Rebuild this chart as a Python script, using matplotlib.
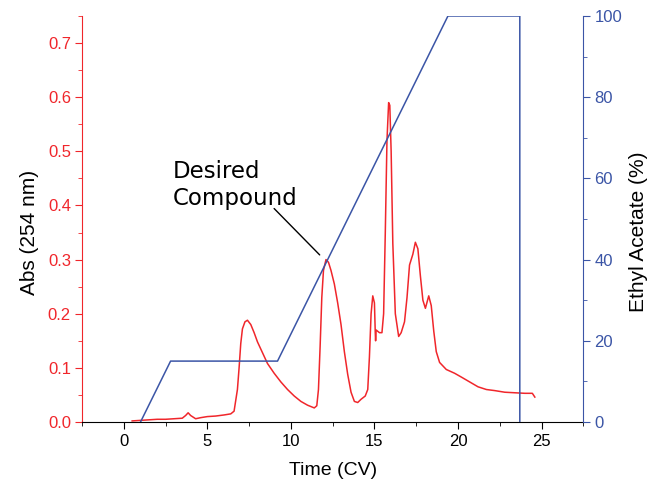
import matplotlib
matplotlib.use("Agg")
import matplotlib.pyplot as plt
from matplotlib.ticker import MultipleLocator

plt.rcParams['font.family'] = ['Liberation Sans', 'DejaVu Sans']

# UV trace, Abs (254 nm) vs Time (CV)
time_cv = [0.5, 1.0, 1.5, 2.0, 2.5, 3.0, 3.5, 3.7, 3.85, 4.0, 4.3, 4.6, 5.0, 5.5,
           6.0, 6.4, 6.6, 6.8, 6.9, 7.0, 7.1, 7.25, 7.4, 7.6, 7.8, 8.0, 8.3, 8.6,
           9.0, 9.4, 9.8, 10.2, 10.6, 11.0, 11.4, 11.55, 11.65, 11.75, 11.85, 11.95,
           12.1, 12.25, 12.4, 12.6, 12.8, 13.0, 13.2, 13.4, 13.6, 13.8, 14.0, 14.2,
           14.45, 14.6, 14.7, 14.8, 14.9, 15.0, 15.05, 15.07, 15.1, 15.3, 15.45,
           15.55, 15.65, 15.75, 15.85, 15.92, 16.0, 16.1, 16.25, 16.45, 16.6, 16.8,
           16.95, 17.1, 17.3, 17.45, 17.6, 17.75, 17.9, 18.05, 18.25, 18.4, 18.55,
           18.7, 18.9, 19.3, 19.8, 20.2, 20.7, 21.2, 21.7, 22.2, 22.8, 23.4, 24.0,
           24.45, 24.6]
absorbance = [0.002, 0.003, 0.004, 0.005, 0.005, 0.006, 0.007, 0.012, 0.017, 0.012,
              0.006, 0.008, 0.010, 0.011, 0.013, 0.015, 0.020, 0.060, 0.100, 0.145,
              0.172, 0.185, 0.188, 0.180, 0.165, 0.148, 0.128, 0.108, 0.090, 0.074,
              0.060, 0.048, 0.038, 0.031, 0.026, 0.030, 0.060, 0.140, 0.230, 0.280,
              0.300, 0.295, 0.280, 0.255, 0.220, 0.180, 0.130, 0.088, 0.055, 0.038,
              0.036, 0.042, 0.048, 0.060, 0.120, 0.200, 0.233, 0.220, 0.165, 0.150,
              0.170, 0.165, 0.165, 0.200, 0.350, 0.520, 0.590, 0.585, 0.500, 0.330,
              0.200, 0.158, 0.165, 0.185, 0.230, 0.290, 0.310, 0.332, 0.320, 0.270,
              0.225, 0.210, 0.233, 0.215, 0.168, 0.130, 0.110, 0.097, 0.090, 0.083,
              0.074, 0.065, 0.060, 0.058, 0.055, 0.054, 0.053, 0.053, 0.046]

# solvent gradient
grad_time = [1.0, 2.8, 9.2, 19.4, 23.7, 23.7]
grad_pct = [0, 15, 15, 100, 100, 0]

red = '#f0262b'
blue = '#3b55a6'

fig = plt.figure(figsize=(6.51, 4.83), dpi=100)
ax = fig.add_axes([0.126, 0.1263, 0.77, 0.8406])
ax2 = ax.twinx()

ax.plot(time_cv, absorbance, color=red, lw=1.1)
ax2.plot(grad_time, grad_pct, color=blue, lw=1.1)

ax.set_xlim(-2.5, 27.5)
ax.set_ylim(0, 0.75)
ax2.set_ylim(0, 100)

ax.xaxis.set_major_locator(MultipleLocator(5))
ax.xaxis.set_minor_locator(MultipleLocator(2.5))
ax.yaxis.set_major_locator(MultipleLocator(0.1))
ax.yaxis.set_minor_locator(MultipleLocator(0.05))
ax2.yaxis.set_major_locator(MultipleLocator(20))
ax2.yaxis.set_minor_locator(MultipleLocator(10))
ax.yaxis.set_major_formatter(plt.FormatStrFormatter('%.1f'))

for a in (ax, ax2):
    a.spines['top'].set_visible(False)
ax.spines['right'].set_visible(False)
ax.spines['left'].set_color(red)
ax2.spines['left'].set_visible(False)
ax2.spines['right'].set_color(blue)
ax2.spines['bottom'].set_visible(False)

ax.tick_params(axis='x', which='major', length=5, labelsize=12, pad=4)
ax.tick_params(axis='x', which='minor', length=3)
ax.tick_params(axis='y', which='both', colors=red, labelcolor=red)
ax.tick_params(axis='y', which='major', length=5, labelsize=12, pad=3)
ax.tick_params(axis='y', which='minor', length=3)
ax2.tick_params(axis='y', which='both', colors=blue, labelcolor=blue)
ax2.tick_params(axis='y', which='major', length=5, labelsize=12, pad=3)
ax2.tick_params(axis='y', which='minor', length=3)

ax.set_xlabel('Time (CV)', fontsize=14, labelpad=9)
ax.set_ylabel('Abs (254 nm)', fontsize=15, labelpad=6)
ax2.set_ylabel('Ethyl Acetate (%)', fontsize=15, labelpad=5)
ax.yaxis.label.set_y(0.468)
ax2.yaxis.label.set_y(0.468)

ax.text(2.94, 0.484, 'Desired\nCompound', fontsize=16.5, family='DejaVu Sans',
        va='top', ha='left', linespacing=1.2)
ax.annotate('', xy=(11.84, 0.305), xytext=(8.88, 0.398),
            arrowprops=dict(arrowstyle='-', color='k', lw=1))

fig.savefig('out.png', dpi=100)
